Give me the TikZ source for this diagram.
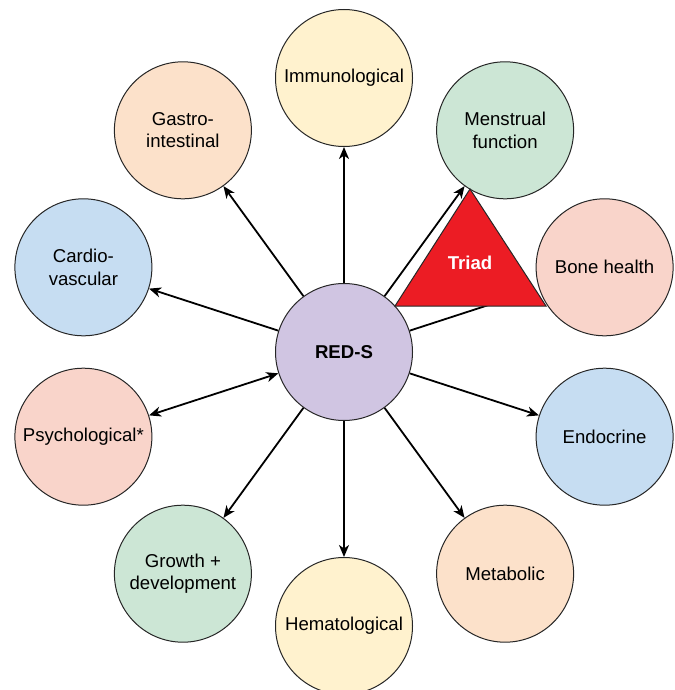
\documentclass[tikz,border=0pt]{standalone}
\usepackage{fontspec}
\setmainfont{Liberation Sans}
\usetikzlibrary{arrows.meta}

% fill colours of the bubbles
\definecolor{cyellow}{HTML}{FFF2CE}
\definecolor{corange}{HTML}{FCE1CA}
\definecolor{cgreen}{HTML}{CCE6D5}
\definecolor{cblue}{HTML}{C6DDF2}
\definecolor{cpink}{HTML}{F9D4CA}
\definecolor{clilac}{HTML}{D0C5E2}
\definecolor{cred}{HTML}{EC1C24}
\definecolor{cline}{HTML}{262626}

\begin{document}
\begin{tikzpicture}[x=1pt,y=-1pt,
  bubble/.style={circle, draw=cline, line width=1pt, minimum size=137pt,
    inner sep=0pt, align=center, font=\fontsize{18.6}{22.5}\selectfont},
  link/.style={line width=1.8pt, draw=black,
    -{Stealth[length=12pt,width=10pt,inset=3.5pt]}},
  twoway/.style={link, {Stealth[length=12pt,width=10pt,inset=3.5pt]}-{Stealth[length=12pt,width=10pt,inset=3.5pt]}},
  triad/.style={fill=cred, draw=cline, line width=1pt, line join=miter}
]
\useasboundingbox (0,0) rectangle (674,690);
\clip (0,0) rectangle (674,690);

% outer ring of bubbles, 36 degrees apart around the centre
\node[bubble, fill=cyellow] (imm) at (344,78)      {Immunological};
\node[bubble, fill=corange] (gas) at (182.9,130.3) {Gastro-\\intestinal};
\node[bubble, fill=cgreen]  (men) at (505.1,130.3) {Menstrual\\function};
\node[bubble, fill=cblue]   (car) at (83.4,267.3)  {Cardio-\\vascular};
\node[bubble, fill=cpink]   (bon) at (604.6,267.3) {Bone health};
\node[bubble, fill=cpink]   (psy) at (83.4,436.7)  {Psychological*};
\node[bubble, fill=cblue]   (end) at (604.6,436.7) {Endocrine};
\node[bubble, fill=cgreen]  (gro) at (182.9,573.7) {Growth +\\development};
\node[bubble, fill=corange] (met) at (505.1,573.7) {Metabolic};
\node[bubble, fill=cyellow] (hem) at (344,626)     {Hematological};

% central bubble
\node[bubble, fill=clilac, font=\fontsize{18.6}{22.5}\selectfont\bfseries] (red) at (344,352) {RED-S};

% connectors from the centre
\draw[link] (red) -- (imm);
\draw[link] (red) -- (gas);
\draw[link] (red) -- (men);
\draw[link] (red) -- (car);
\draw[link, shorten >=16pt] (red) -- (bon);
\draw[twoway] (red) -- (psy);
\draw[link] (red) -- (end);
\draw[link] (red) -- (gro);
\draw[link] (red) -- (met);
\draw[link] (red) -- (hem);

% the triad triangle laid over the connectors
\coordinate (tA) at (470,189);
\coordinate (tB) at (395,306);
\coordinate (tC) at (546,306);
\draw[triad] (tA) -- (tB) -- (tC) -- cycle;
\node[text=white, font=\fontsize{18.6}{22.5}\selectfont\bfseries] (tri) at (470,263) {Triad};
\end{tikzpicture}
\end{document}
